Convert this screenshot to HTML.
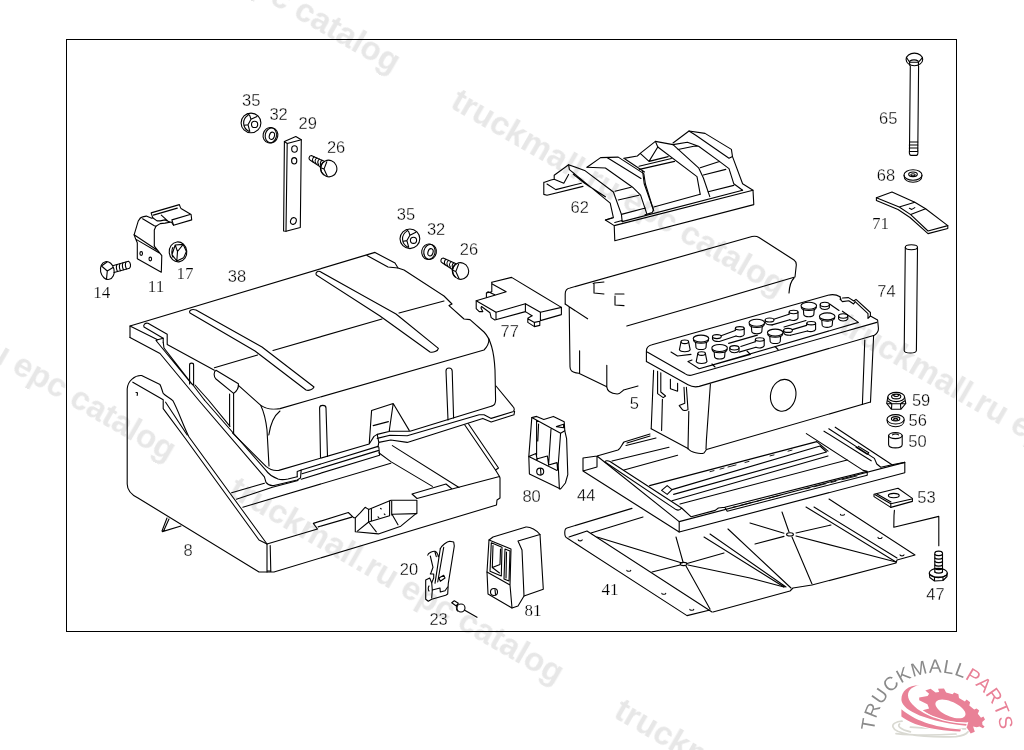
<!DOCTYPE html>
<html><head><meta charset="utf-8">
<style>
html,body{margin:0;padding:0;background:#fff;}
body{width:1024px;height:750px;overflow:hidden;position:relative;font-family:"Liberation Sans",sans-serif;}
svg{position:absolute;left:0;top:0;}
.wm{font-family:"Liberation Sans",sans-serif;font-weight:bold;font-size:33px;fill:#e7e7e7;}
.l{fill:none;stroke:#000;stroke-width:1.1;stroke-linejoin:round;stroke-linecap:round;}
.t{font-family:"Liberation Sans",sans-serif;font-size:16.5px;fill:#000;stroke:#fff;stroke-width:0.3px;}
.ts{font-family:"Liberation Serif",serif;font-size:17px;fill:#000;stroke:#fff;stroke-width:0.2px;}
</style></head><body>
<svg width="1024" height="750" viewBox="0 0 1024 750">
<rect x="0" y="0" width="1024" height="750" fill="#fff"/>
<!-- watermarks -->
<g class="wm" style="filter:grayscale(1)">
<text transform="translate(449,107) rotate(30)">truckmall.ru epc catalog</text>
<text transform="translate(63.5,-116) rotate(30)">truckmall.ru epc catalog</text>
<text transform="translate(837,331) rotate(30)">truckmall.ru epc catalog</text>
<text transform="translate(227,495) rotate(30)">truckmall.ru epc catalog</text>
<text transform="translate(-161,272) rotate(30)">truckmall.ru epc catalog</text>
<text transform="translate(612.3,716.7) rotate(30)">truckmall.ru epc catalog</text>
</g>
<!-- frame -->
<rect x="66.5" y="39.5" width="890" height="592" fill="none" stroke="#000" stroke-width="1"/>
<!-- small hardware -->
<g class="l">
<!-- nut 35a -->
<ellipse cx="251.0" cy="122.9" rx="9.9" ry="9.8"/><path d="M248.0,115.2 C242.0,118.9 242.0,127.9 249.2,131.4"/><path d="M249.8,115.7 L251.0,119.3 L248.0,124.7 L249.8,131.3 M251.0,119.3 L257.0,116.4 M244.4,125.3 L248.0,124.7 M249.8,115.7 L247.8,113.7"/><circle cx="254.6" cy="124.4" r="3.1"/>
<!-- washer 32a -->
<ellipse cx="269.8" cy="135.2" rx="6.7" ry="7.8" transform="rotate(12 269.8 135.2)"/><ellipse cx="271.5" cy="135.4" rx="6.3" ry="7.5" transform="rotate(12 271.5 135.4)"/><ellipse cx="271.9" cy="135.8" rx="2.5" ry="3.7" transform="rotate(18 271.9 135.8)"/>
<!-- plate 29 -->
<path d="M284.4,141.5 L295.8,136.5 L301.3,139.8 L300.3,227.5 L286,231.3 L283.6,231 Z"/>
<path d="M284.4,141.5 L287.2,143.5 L301.3,139.8 M287.2,143.5 L286,231.3"/>
<ellipse cx="294.5" cy="149" rx="2.8" ry="3.2"/>
<ellipse cx="294.2" cy="160.8" rx="2.6" ry="3.2"/>
<ellipse cx="293.4" cy="221" rx="2.8" ry="3.4" transform="rotate(20 293.4 221)"/>
<!-- bolt 26a -->
<ellipse cx="328.8" cy="168.5" rx="8" ry="8.4" transform="rotate(-25 328.8 168.5)"/><path d="M324.3,161.3 L311.3,155.5 C308.8,155.5 308.3,159.5 310.3,160.3 L320.6,167.0"/><path d="M314.2,156.8 C312.2,158.3 312.2,160.8 313.4,162.4 M316.8,157.9 C314.8,159.4 314.8,161.9 316.0,163.5 M319.4,159.1 C317.4,160.6 317.4,163.1 318.6,164.7 M322.0,160.3 C320.0,161.8 320.0,164.3 321.2,165.9 "/><path d="M323.3,162.0 C319.3,165.5 319.8,172.0 323.8,174.7 M326.8,161.7 L324.0,169.1 L327.3,176.3 M324.0,169.1 L320.2,167.5"/>
<!-- nut 35b -->
<ellipse cx="409.9" cy="238.8" rx="9.9" ry="9.8"/><path d="M406.9,231.1 C400.9,234.8 400.9,243.8 408.1,247.3"/><path d="M408.7,231.6 L409.9,235.2 L406.9,240.6 L408.7,247.2 M409.9,235.2 L415.9,232.3 M403.3,241.2 L406.9,240.6 M408.7,231.6 L406.7,229.6"/><circle cx="413.5" cy="240.3" r="3.1"/>
<!-- washer 32b -->
<ellipse cx="428.4" cy="251.7" rx="6.7" ry="7.8" transform="rotate(12 428.4 251.7)"/><ellipse cx="430.1" cy="251.9" rx="6.3" ry="7.5" transform="rotate(12 430.1 251.9)"/><ellipse cx="430.5" cy="252.3" rx="2.5" ry="3.7" transform="rotate(18 430.5 252.3)"/>
<!-- bolt 26b -->
<ellipse cx="460.6" cy="271.0" rx="8" ry="8.4" transform="rotate(-25 460.6 271.0)"/><path d="M456.1,263.8 L443.1,258.0 C440.6,258.0 440.1,262.0 442.1,262.8 L452.4,269.5"/><path d="M446.0,259.3 C444.0,260.8 444.0,263.3 445.2,264.9 M448.6,260.4 C446.6,261.9 446.6,264.4 447.8,266.0 M451.2,261.6 C449.2,263.1 449.2,265.6 450.4,267.2 M453.8,262.8 C451.8,264.3 451.8,266.8 453.0,268.4 "/><path d="M455.1,264.5 C451.1,268.0 451.6,274.5 455.6,277.2 M458.6,264.2 L455.8,271.6 L459.1,278.8 M455.8,271.6 L452.0,270.0"/>
<!-- bolt 14 -->
<ellipse cx="107.3" cy="270.5" rx="6.8" ry="9" transform="rotate(-12 107.3 270.5)"/>
<path d="M101.5,266 L107,262 M107.300,271 L101.5,266 M107.300,271 L106.5,279 M107.300,271 L113,267.5"/>
<path d="M113.500,265.5 L128.500,261.3 C130.800,262.500 131.200,266.500 129.500,268.200 L114,272.500"/>
<path d="M117,264.500 C116,266.500 116.500,269.500 117.500,271.500 M120,263.700 C119,265.700 119.500,268.700 120.500,270.700 M123,262.800 C122,264.800 122.500,267.800 123.500,269.800 M126,262 C125,264 125.500,267 126.500,269"/>
<!-- bracket 11 -->
<path d="M134.100,234.800 L138.300,220.900 C139.800,218 141,217.200 142.600,216.900 L146.300,216.100 L151.700,218.300 L152.700,217.700 L151.100,212.900 L179.400,204.600 C180,206.500 180.300,207.500 181,208.500 L191.100,214.500 L191.700,219.900 L173.500,225.200 L171.400,222 L165,223.100 L160.200,223.600 L155.900,226.300 L154.300,230 L154.300,246"/>
<path d="M142.600,218.800 L154.300,225.700 L155.900,226.300 M153.300,215.100 L177.300,208.100 M171.900,219.900 L190.100,214.500 M171.900,219.900 L173.500,225.200 M161.300,215.100 L167.700,220.900 M152.700,217.700 L157,220.900 L160.200,220.900 L165,219.900 L169.800,222"/>
<path d="M134.100,234.800 L135.700,239.100 L137.300,242.800 L137.300,258.800 L161.300,272.200 L161.800,255.600 L158.100,250.800 L154.300,246 M134.100,234.800 L158.100,250.800 M135.700,239.100 L160.200,253.500"/>
<ellipse cx="141.200" cy="253.500" rx="1.300" ry="1.900"/>
<ellipse cx="150.300" cy="259" rx="1.300" ry="1.900"/>
<!-- nut 17 -->
<ellipse cx="178" cy="251.900" rx="8.800" ry="10" transform="rotate(-6 178 251.900)"/>
<path d="M175.200,245 L183.200,244.400 L186.400,251.400 L183.700,257.800 L176.800,261 L172,254.600 Z M175.200,245 L177.500,251.500 L176.800,261 M177.500,251.500 L183.200,244.400 M172.800,247.500 C171.500,250 171.500,254.500 172.800,257"/>
</g>
<!-- right column -->
<g class="l">
<!-- bolt 65 -->
<ellipse cx="914.4" cy="59.4" rx="8.3" ry="6.3"/>
<path d="M906.500,57.500 L909.500,62 L918.500,62.200 L922.300,57.800 M909.500,62 L909.800,65.500 M918.500,62.200 L918.300,65.700 M910,61 C912,59.500 916,59.500 918,61"/>
<path d="M910.300,66 L909.500,150 M918.600,66 L917.800,150"/>
<path d="M909.500,142 L917.800,142 M909.300,145 L917.800,145 M909.300,148 L917.800,148 M909.300,151.500 L917.800,151.500 M909.500,150 C909,153 909.500,155.200 911,155.400 L916.500,155.400 C918,155 918.200,153 917.800,150"/>
<!-- washer 68 -->
<ellipse cx="913" cy="175" rx="9" ry="5.2"/>
<ellipse cx="913" cy="174.300" rx="4.300" ry="2.300"/>
<ellipse cx="913" cy="174.800" rx="2.200" ry="1.100"/>
<path d="M904,175.500 C904,180 908,182.300 913,182.300 C918,182.300 922,180 922,175.500"/>
<!-- plate 71 -->
<path d="M876.400,197.800 L892,192 L914.800,202.200 L925.600,208.800 L947.800,225.600 L947.800,228.500 L928,233.600 L910,217.500 L898,209.500 L876.400,200.500 Z"/>
<path d="M876.400,197.800 L899.200,207 L910.700,214.600 L928,231 L947.800,225.600 M899.200,207 L914.800,202.200 M910.700,214.600 L925.600,208.800 M909.400,208.200 L911.800,209.400 L914.800,207.600"/>
<!-- rod 74 -->
<ellipse cx="911.400" cy="247.200" rx="6.100" ry="2.500"/>
<path d="M905.300,247.200 L904.200,350.500 C904.500,353.800 916,354 916.400,350.500 L917.500,247.200"/>
<!-- nut 59 -->
<ellipse cx="896.200" cy="397" rx="8.400" ry="4.600"/>
<ellipse cx="896.200" cy="396.500" rx="4.600" ry="2.400"/>
<path d="M893.500,395 C894,397 898,397 898.800,395.200"/>
<path d="M887.800,397 L886.700,403.500 L891.500,409.300 L900.800,409.300 L905.800,403.500 L904.600,397 M886.700,403.500 L891.800,403.800 L900.500,403.800 L905.800,403.500 M891.800,403.800 L891.500,409.300 M900.500,403.800 L900.800,409.300 M888,401 L892,403.800 M904.500,401 L900.500,403.800"/>
<!-- washer 56 -->
<ellipse cx="895.600" cy="419.300" rx="8.600" ry="4.700"/>
<ellipse cx="895.600" cy="418.800" rx="4.200" ry="2.200"/>
<ellipse cx="895.600" cy="419.300" rx="2.100" ry="1"/>
<path d="M887,420 C887,424.500 891,426.800 895.600,426.800 C900.200,426.800 904.200,424.500 904.200,420"/>
<!-- spacer 50 -->
<ellipse cx="895.400" cy="435.600" rx="6.800" ry="3"/>
<path d="M892.500,434.800 C893.500,433.800 897.500,433.800 898.500,434.800"/>
<path d="M888.600,435.600 L888.600,444.500 C888.600,449 902.200,449 902.200,444.500 L902.200,435.600"/>
<!-- plate 53 -->
<path d="M874,494.200 L898,488.200 L912.400,498.400 L912.400,501.400 L890.800,507.400 L874,496.600 Z"/>
<path d="M875.200,494.800 L890.800,503.800 L911.800,499 M877,494 L891,502 M890.800,503.800 L890.800,507.400"/>
<ellipse cx="893.800" cy="495.600" rx="5.400" ry="2.200"/>
<path d="M894.400,510.400 L894,515.500 L893.800,527.200 L938.800,516.400 L938.800,545.800"/>
<!-- bolt 47 -->
<path d="M934.800,572 L934.800,553 C935.500,550.500 941.800,550.500 942.500,553 L942.500,572"/>
<path d="M934.800,554.500 C936.500,556 941,556 942.500,554.500 M934.800,558 C936.500,559.500 941,559.500 942.500,558 M934.800,561.500 C936.500,563 941,563 942.500,561.500 M934.800,565 C936.500,566.500 941,566.500 942.500,565 M934.800,568.500 C936.500,570 941,570 942.500,568.500 M934.800,572 C936.500,573.500 941,573.500 942.500,572"/>
<ellipse cx="938.300" cy="573" rx="9" ry="4.600"/>
<path d="M929.300,573 L929.800,577.500 L934.500,581 L943,580.500 L947,576.500 L947.300,573 M934.500,577 L934.500,581 M943,576.800 L943,580.500 M929.800,574.500 L934.500,577 L943,576.800 L947,575"/>
<!-- part 77 -->
<path d="M491.800,282.200 L511.600,277.400 L561.400,307.400 L540.400,312.200 L525.400,303.800 L496,312.200 L476.200,300.800 L506.200,291.800 L492.200,284"/>
<path d="M491.800,282.200 L491.800,291.800 L486.400,293 L486.400,297.200 M488.200,291.800 L494.800,294.800 M486.400,293 L488.200,291.800"/>
<path d="M476.200,300.800 L476.200,308.600 L479.200,311.600 L482.800,311.600 L481,308 L481.500,306.500 L490,312.800 L491.200,317.600 L494.800,320 L525.400,311.600 L525.400,303.800 M496,312.200 L496,319.400 M525.400,311.600 L532,315.800 M540.400,312.200 L540.400,320 M561.400,307.400 L561.400,314.600 L540.400,320.600"/>
<path d="M527.800,318.800 L534.400,322.400 L539.800,321.200 L539.800,325.400 L534.400,326.600 L527.800,322.400 Z M534.400,322.400 L534.400,326.600 M532,315.800 L527.800,318.200"/>
<!-- part 80 -->
<path d="M531.800,417.600 L536.600,416.400 L543.800,419.400 L553.400,416.400 L564.200,421.800 L564.800,430.800 L566.600,438.600 L567.800,474.600 L565.400,483 L560.600,489 L529.400,474 L528.800,456.600 Z"/>
<path d="M531.800,417.600 L560.600,433.200 L564.800,430.800 M560.600,433.200 L558.200,465 L559.400,489 M536.600,420.600 L536.600,455 M538.600,424 L537.800,441 M551,429 L548.600,465 M528.800,456.600 L536,453.600 L537.200,459.600 M528.800,456.600 L557,470.400 M536.600,459 L547.400,456 L548.600,465 L557,462.600 L557.600,469.800 M556.400,426.600 L563.600,424.200 L563.600,427.800 Z"/>
<circle cx="540.200" cy="471.600" r="3.500"/>
<path d="M540.500,468.500 L541,474.800"/>
<!-- part 81 -->
<path d="M489,540 L493,537 L526,527 C530,526.500 537,530.500 540,534.500 L543.300,589.300 L524,596 L518,606 L512,608 L488,594 L487,572 Z"/>
<path d="M489,540 L511,549 L510,585 L512,608 M487,572 L510,585 M518,541 L540,534.500 M518,541 L522,550 L524,596"/>
<path d="M491.300,542.700 L502,547.300 L501.300,576 L490,571.300 Z M493,545.500 L492.300,567.500 L500,564.500 L500.500,549 M492.300,567.500 L499.500,573"/>
<path d="M505,549 L510,551 L509,581 L504,579 Z M506.500,552 L506,578"/>
<circle cx="494" cy="592" r="3.500"/>
<path d="M495,589.500 L495.500,594.500"/>
<!-- latch 20 -->
<path d="M440.300,548.700 C442,545 447,541.500 449.700,541.300 L453.700,542 L454.300,546 L448.300,583.300 L447.700,594 L445.700,595.300 L431.700,599.300 L428.300,601.300 L425.700,599.300 L425.700,580 L429.700,578 L431.700,582.700 L432.300,590 L431.700,598"/>
<path d="M440.300,548.700 L435,583.300 M443.700,547.300 L437.700,582 M427.700,555.300 C428,553 433,551 435,551.300 C437,552 438,555 438.300,556.700 M430.300,556 L433,567.300 L431,572.700 L430.300,574 L433.700,574 L433.700,578 L431.700,582.700 M435,552 L436.300,556.700 M439,578 L443.700,575.300 L445,578 L440.300,581.300 Z M432.300,590 L440,588 L440.300,592 L445,590.700 L447.700,587 M429,586 C428,587 428,590 429,591"/>
<!-- rivet 23 -->
<path d="M451.700,602.700 L454.300,600.700 L458.300,603.300 L456.300,606 Z"/>
<circle cx="461" cy="608" r="4"/>
<path d="M457.500,604.500 C456,606 456,609 457.500,611 M464.300,610 L477,617.300"/>
</g>
<!-- cover 38 -->
<g class="l">
<path d="M130,337.4 L130,326 L375,252.4 L395,263 L398,268 L404,270 L444,296 L452,304 L449,305.600 L464,319 L470,319.600 L484,332 C490,338 494,350 495,370 L495.600,400 C495.600,403 494,405.500 492,406"/>
<path d="M367,255.400 L388,267 L398,268"/>
<path d="M130,326 L157.600,339.800 L163.200,338.200 M130,337.400 L160,353.500 L198.500,400 L264.400,476.800 L266,482.400 C268,485 271,486 274,485.500 L297.200,480 L300.500,478 L301.200,470 L297.200,471.500 L297.200,476.800"/>
<path d="M144,327 C143,325 145,322.500 148,323.300 L167.200,334.200 L167.200,344.600 L214.400,370.200 M144,327 L163.200,338.200 L163.200,342.200"/>
<path d="M157.600,339.800 L156,340.500 L190,382 L193,385 L204.400,400 M163.200,342.200 L164,348 L192,384 M195,385 L208.400,400 L230,426.400"/>
<path d="M204.400,400 L235,435 L266,470.400 C268,473.500 272.400,476.800 278,479 C281,480 284,479.800 288,479 L297.200,476.800"/>
<path d="M232.400,432.800 L266,466.400 C269,469 274,471 278.800,470.400 L369.200,444 L371.600,410.400 L393.200,403.500 L409.200,430.400 M393.200,403.500 L389.200,431.200 M373.200,425.600 L388.400,421.600 M369.200,444 L374,436.400 L377.200,434.400 L390,431.200 L410,431.200 L492,406"/>
<path d="M377.200,438.400 L390,435.200 L407.200,435.800 L479.200,414.800 L484,414.800 L491.200,418.400 L512.800,411.800 C514.500,411 515,408.500 512.800,406.400 L496,386"/>
<path d="M378.800,442.400 L390.800,440 L407.200,442.400 L482.800,418.400 L491.200,422 L514,414.800 L514.600,411.200 M377.200,434.400 L378.800,442.400 L378,447"/>
<path d="M301.200,470 L378,446.400 M302,473.800 L378.800,450.400 M301.200,479.200 L379.600,455.200 L378.800,447"/>
<!-- crease and ribs -->
<path d="M214.400,367.800 L257.600,355 M273,350.500 L382,319 M399,313 L444,301"/>
<path d="M190,313 C188.500,311 191,308.500 196,310 L262,347 L314,387 C313,389.500 309,391 306,390 L255,351 Z"/>
<path d="M316.400,275 C315,272.500 318,270.500 320,271.600 L396,314 L438.400,348.400 C438,351 433,353 430,352 L380,316 Z"/>
<!-- lug -->
<path d="M216,370.200 L238.400,383.800 C238.800,387 237,391 233.600,393.400 L216,379 C213.500,376.500 213.500,371.500 216,370.200 Z"/>
<path d="M238.400,385.400 L260.800,405.400 C265,408.500 273,409.800 280,408.600 L484,350 C487,347 489,343 489,339"/>
<path d="M260.800,405.400 C263,410 265.600,417.400 267,430 L269,466 M280,411 C275,415 270.400,423.800 268.800,435"/>
<!-- tabs -->
<path d="M189.600,384 L189.600,365 C189.600,362.500 193.600,362.500 193.600,365 L193.600,384.600"/>
<path d="M229.600,426 L229.600,394 M233.600,433 L233.600,393.400"/>
<path d="M320.500,457.500 L319.600,408 C319.600,404.500 326,404.500 326,408 L327.500,456.500"/>
<path d="M448,420 L446,371 C446,367 452,367 452.200,371 L453.600,418"/>
</g>
<!-- base 8 -->
<g class="l">
<path d="M141.600,375.500 C135,375 127.500,381 127.200,389 L127.200,484 C127.200,491 132,495 138,498 L259,572 L274,572 L496.500,505 L497,500 L500,498 L500,478 L499.500,476.500 L495.500,470 L464.800,425"/>
<path d="M141.600,375.500 L160,384.600 C161.500,387 162,390.500 163.200,393.400 C166,396.500 170,398 172.800,400.600 C178,410 183,425 189,437 L267,544 L267,572 M270.200,545.500 L270.800,571.500 M267,571 L271,571"/>
<path d="M132.800,382.200 L163.200,399.800 L163.200,408.600 L185,438 L259,540 L267,544 M165.600,402.200 L187.200,435"/>
<path d="M136,392.500 L137.500,392.800 L137.200,395.500"/>
<path d="M267,544 L317.500,529 L313.300,523.400 L348.300,512.500 L353.900,517.800 L355.300,517.800 M318.200,526.900 L351.800,517.100"/>
<path d="M412,494 L417,498.500 L452,489 L446,484 Z M452,489 L499.500,476.500 M468.400,423.800 L498.500,468 L495.500,470"/>
<path d="M231.600,492.800 L264.400,483.200 M236.400,499.200 L272.400,487.200 L298,480.500 M242.800,507.200 L390.800,463.200 M378.800,452.800 L390.800,461.600 L432.400,486.400 M392.400,445.600 L459,487.500"/>
<!-- latch mount -->
<path d="M355.300,517.800 L360.200,512.900 L365.100,507.300 L368.600,509.400 L391,500.300 L416.900,500.300 L416.900,512.900 L400.800,526.200 L378.400,533.900 L355.300,531.800 Z"/>
<path d="M368.600,509.400 L368.600,522 L357.400,531.100 M371.400,508.700 L371.400,521.300 M368.600,522 L389.600,515.700 L389.600,501 M391.700,501 L391.700,515 M368.600,522 L376.300,531.800 M392.400,515 L398,524.800 M392.400,514.300 L416.900,513.600"/>
<path d="M380.500,508.300 L381.300,509 M384.300,514 L385,514.700 M378,516.800 L378.800,517.500"/>
<!-- pin -->
<path d="M167,518 L162,531 M169,519 L163.600,531 M162.400,531.600 L181,526"/>
</g>
<!-- batteries -->
<g class="l">
<path d="M565.2,304 L565.2,294 C565.2,290.500 567,288.500 570,288 L752,236.500 C755,235.800 757,236.200 759,237.500 L794,260 C796,261.500 796.400,263 796.300,265 L795,277 L710,302 L626.800,326"/>
<path d="M565.2,304 L569.200,306.800 L587.600,318.800 M569.200,306.800 L570,366.800 C570,371 573,373 578.800,373.200 L606.800,386.800 C607,391 610,393.500 617.200,394 C620,393.800 622,391.500 623.600,390 L638,386 M579.600,350.800 L579.600,373.200 M606.800,365.200 L606.800,387.600"/>
<path d="M794,278 C791,281 789.500,285 789,293"/>
<path d="M593.2,283.500 L594.500,283 L604,282 M594,283 L594,293 L604,294 M615,294 L624,294 M615,296 L615,305 L624,305.600"/>
<path d="M646.4,361.600 L646.400,351 C646.400,347.500 649,345.500 652,344.800 L828,295.200 C832,294.200 836,294.200 840,296.800 M646.400,361.600 L688,384.800 C692,387 696,387.200 699.200,386.400 L874.400,335.200 C877.500,333 878.600,330 878.400,328 L877.600,320 L870.400,316"/>
<path d="M647.200,352 L684.800,373.600 C687,375 689.500,375.600 691.200,375.200 L876.800,322.400"/>
<path d="M840,299.200 L842.400,301.600 L848.800,300.800 L853.600,304 L855.200,301.600 L868,313.600 L868,318.400 L870.400,316 M840,296.800 L841,299.500 M842.500,298 L848.500,297.600 L853.800,301 L856,299.400 L870.400,312.500 L870.400,316"/>
<path d="M671,352 L677.500,356 L691,354.400 M688,361.600 L699.200,368.800 L750.400,354.400 L747,351 M688,361.600 L692,360 M699.200,368.800 L858.400,322.400 L842.400,311.200 M829.600,304 L839,310.500 M712,364 L715,367 M775,346.500 L778,349.500"/>
<path d="M653.600,370.400 L651.200,428.800 M657.600,371.200 L657.600,393.600 L663.200,397.600 L665.600,396 L660.800,392 L660.800,372.800 M670.400,379.200 L670.400,388.800 L677.600,391.200 L677.600,383.200 M686.400,387.200 L688,409.600 C686,411 683,410.500 682.400,409.600 L679.200,405.600 L684.800,403.200 L684,387.200 M662.400,399.200 L661.600,430.400 M688.800,411.200 L688,449 M710.400,384 L706.400,440 L706,449 M864.800,340 L862.400,404.500 M873.600,336 L870.500,402 "/>
<path d="M651.200,428.800 L688,448.500 C691,452.500 700,454.500 704,453 L706.500,449.500 L870.500,402"/>
<ellipse cx="783.2" cy="395.3" rx="12.6" ry="16" transform="rotate(12 783.2 395.3)"/>
<ellipse cx="684.8" cy="341.8" rx="3.8" ry="1.8"/><path d="M681.0,341.8 L679.4,349.8 C680.8,352.4 688.8,352.4 690.2,349.8 L688.6,341.8"/><ellipse cx="701.6" cy="353.6" rx="3.8" ry="1.8"/><path d="M697.8,353.6 L696.2,361.6 C697.6,364.2 705.6,364.2 707.0,361.6 L705.4,353.6"/>
<ellipse cx="701.0" cy="338.6" rx="7.8" ry="3.5"/><path d="M693.5,340.2 C694.2,344.3 707.8,344.3 708.5,340.2"/><path d="M695.6,342.9 L696.0,347.6 C697.1,350.2 704.9,350.2 706.0,347.6 L706.4,342.9"/><ellipse cx="719.6" cy="348.0" rx="7.8" ry="3.5"/><path d="M712.1,349.6 C712.8,353.7 726.4,353.7 727.1,349.6"/><path d="M714.2,352.3 L714.6,357.0 C715.7,359.6 723.5,359.6 724.6,357.0 L725.0,352.3"/><ellipse cx="756.8" cy="322.8" rx="7.8" ry="3.5"/><path d="M749.3,324.4 C750.0,328.5 763.6,328.5 764.3,324.4"/><path d="M751.4,327.1 L751.8,331.8 C752.9,334.4 760.7,334.4 761.8,331.8 L762.2,327.1"/><ellipse cx="775.2" cy="332.6" rx="7.8" ry="3.5"/><path d="M767.7,334.2 C768.4,338.3 782.0,338.3 782.7,334.2"/><path d="M769.8,336.9 L770.2,341.6 C771.3,344.2 779.1,344.2 780.2,341.6 L780.6,336.9"/><ellipse cx="808.8" cy="305.8" rx="7.8" ry="3.5"/><path d="M801.3,307.4 C802.0,311.5 815.6,311.5 816.3,307.4"/><path d="M803.4,310.1 L803.8,314.8 C804.9,317.4 812.7,317.4 813.8,314.8 L814.2,310.1"/><ellipse cx="827.2" cy="316.4" rx="7.8" ry="3.5"/><path d="M819.7,318.0 C820.4,322.1 834.0,322.1 834.7,318.0"/><path d="M821.8,320.7 L822.2,325.4 C823.3,328.0 831.1,328.0 832.2,325.4 L832.6,320.7"/>
<ellipse cx="734.4" cy="347.8" rx="4.6" ry="2.2"/><path d="M729.8,347.8 L729.8,350.8 C731.4,353.4 737.4,353.4 739.0,350.8 L739.0,347.8"/><ellipse cx="824.8" cy="304.5" rx="4.6" ry="2.2"/><path d="M820.2,304.5 L820.2,307.5 C821.8,310.1 827.8,310.1 829.4,307.5 L829.4,304.5"/><ellipse cx="843.2" cy="316.0" rx="4.6" ry="2.2"/><path d="M838.6,316.0 L838.6,319.0 C840.2,321.6 846.2,321.6 847.8,319.0 L847.8,316.0"/>
<ellipse cx="716.9" cy="336.6" rx="4.4" ry="2"/><path d="M712.5,336.6 L712.5,339.0 C713.4,341.2 716.9,341.6 719.4,341.5"/><path d="M721.1,335.8 L735.2,330.5 M719.4,341.5 L736.0,336.1"/><ellipse cx="739.8" cy="328.3" rx="4.4" ry="1.7"/><path d="M735.4,328.3 L735.2,330.5 M744.2,328.3 L744.2,334.6 C743.3,336.9 738.8,337.3 736.0,336.1"/><path d="M740.8,346.4 L755.2,341.7 M739.1,352.1 L756.0,347.3"/><ellipse cx="759.8" cy="339.5" rx="4.4" ry="1.7"/><path d="M755.4,339.5 L755.2,341.7 M764.2,339.5 L764.2,345.8 C763.3,348.1 758.8,348.5 756.0,347.3"/><ellipse cx="769.6" cy="320.0" rx="4.4" ry="2"/><path d="M765.2,320.0 L765.2,322.4 C766.1,324.6 769.6,325.0 772.1,324.9"/><path d="M773.8,319.2 L789.0,314.2 M772.1,324.9 L789.8,319.8"/><ellipse cx="793.6" cy="312.0" rx="4.4" ry="1.7"/><path d="M789.2,312.0 L789.0,314.2 M798.0,312.0 L798.0,318.3 C797.1,320.6 792.6,321.0 789.8,319.8"/><ellipse cx="788.0" cy="330.4" rx="4.4" ry="2"/><path d="M783.6,330.4 L783.6,332.8 C784.5,335.0 788.0,335.4 790.5,335.3"/><path d="M792.2,329.6 L806.6,325.4 M790.5,335.3 L807.4,331.0"/><ellipse cx="811.2" cy="323.2" rx="4.4" ry="1.7"/><path d="M806.8,323.2 L806.6,325.4 M815.6,323.2 L815.6,329.5 C814.7,331.8 810.2,332.2 807.4,331.0"/>
<path d="M728.6,343.4 L757.4,335.1 M784,327 L806,320.500"/>
</g>
<!-- clamp 62 -->
<g class="l">
<!-- far-left tab -->
<path d="M543.800,182.400 L543.800,194.400 L547,195.200 L583,186.400 M543.800,182.400 L551,180 L554.200,179.200 L554.200,175.200 L568.600,164.800 M547,184 L555.800,189.600 L581.400,183.200 M554.200,179.200 L563.800,183.200 L568.600,174.400"/>
<!-- strap 1 -->
<path d="M568.600,164.800 L569.400,169.600 L610.200,203.200 L613.400,217.600 L605.400,220 M568.600,164.800 L584.600,170.400 L613.400,192 L621.400,214.400 L622.200,221.600 M573.400,174.400 L584.600,183.200 L605.400,196.800"/>
<!-- hoop 1 -->
<path d="M587,167.200 L600.600,157.600 L618.200,157.100 L643.800,173.600 L645.400,184 L653.400,209.600 L652.200,212.600 L645,214.800"/>
<path d="M587,167.200 L605.400,168 L632.600,187.200 L640.600,195.200 L647,214.400 M607,157.500 L641,178.500 M615,191.200 L631,187.200 M618.200,200 L639,195.200 M621.400,214.400 L645.400,208 M625,159 L644.500,172"/>
<!-- middle -->
<path d="M623.800,158.400 L637.400,156 L640.200,153.400 L655.400,141.400 L657.800,147 L649,161.400 L640.200,153.400 M649,161.400 L668.200,156.600 M639.400,169.400 L674.600,161.400 M639,166.200 L671.400,158.500 M642.600,171 L644.200,183.800 L653.800,211 M653.800,207 L700.200,194.200"/>
<!-- strap 2 -->
<path d="M655.400,141.400 L673,144.600 L698.600,167.800 L703.400,178 L709.800,196.600 M657.800,147 L697,176.600 L700.200,194.200 M673,143 L689,131 L705,133.400 L731.400,149.400 L732.500,156.600 L742.600,183.800 L753,190.200"/>
<!-- hoop 2 -->
<path d="M673,144.600 L687.400,142.200 L698.600,146.200 L719.400,161.400 L729,168.600 L733.800,183.800 L742.600,190.200 M689,131 L695.400,135 L729,158.200 L732.500,156.600 M678,149.500 L693.800,146.200 L698.600,146.200 M700.200,167.800 L719.400,161.400 M703.400,175 L725.800,169.400 M708.200,191.800 L733.800,185.400"/>
<!-- front bar -->
<path d="M605.400,220 L614.200,225.600 L614.800,240.800 L753.800,204.600 L753,190.200 L614.200,225.600 M605.400,220 L612,218 M622.200,221.600 L742.600,190.200 M614.800,222.500 L622,220.500"/>
</g>
<!-- tray 44 -->
<g class="l">
<path d="M583,458 L597,456 L618,450 C621,448 622,444 624,442 L650,434 M627,443 L650,436 M626,445.500 L656,438 M583,458 L583,471 L679.200,532 L679.200,521.600 L597,456 L597,467 L583,471"/>
<path d="M679.200,521.600 L904.800,462.400 L904.800,472.800 L679.200,532"/>
<path d="M605,462 L676,509.600 C678,510.500 680.500,509.500 681.600,508 L610,461.500 C608,460.500 605,460.500 605,462 Z M681.600,508 L691.200,516.800 L715.200,510.400 L718.400,508 L724.800,507.200 L727.200,511.200 L867.200,475.200 L867.200,471.200 L863.200,470.400 M724.800,507.200 L867.200,471.200"/>
<path d="M612,461 L669,447.200 M624,470 L677.600,455.200"/>
<path d="M649.600,485.600 L816.800,441.600 L828,451.200 M661.600,490.400 L667.200,485.600 L672,489.600 L667.200,494.400 Z M672,489.600 L820,446 L826.500,452 L673.600,494.400 M672,500.800 L828,456 M680,504 L847.200,460"/>
<path d="M806.400,433.600 L863.200,470.400 M824,431.200 L871.200,460.800 M828.800,428.800 L874.400,458.400 L876.800,464 L880.800,467.200 L892,464.800 M835.200,427.200 L892,464.800 L904.800,462.400 M856,447.200 L867.200,454.400 L868.800,452.800 L858.400,446.400"/>
<path d="M710.0,471.7 L714.0,470.6 M720.0,469.1 L724.0,468.0 M728.0,467.0 L736.0,464.9 M745.0,462.5 L749.0,461.4 M770.0,455.9 L774.0,454.9 M788.0,451.2 L792.0,450.1 M733.0,507.2 L736.0,506.5 M740.0,505.5 L752.0,502.4 M757.0,501.2 L761.0,500.1 M769.0,498.1 L780.0,495.3 M806.0,488.8 L810.0,487.8 M814.0,486.8 L826.0,483.7 M831.0,482.5 L836.0,481.2 M842.0,479.7 L857.0,475.9" stroke-width="0.9"/>
</g>
<!-- plate 41 -->
<g class="l">
<path d="M567,528 C564,528.500 564,537 567,538 L687,615.600 L710,610 M567,528 L632,508.400 M569,537 L587,531 L712,612 M591,533 L643,517"/>
<path d="M713,612 L790,591 L793,588 L812,585 L896,563 L897,560 L915,555 L829,499 M806,507 L896,562 M814,507 L897,558"/>
<path d="M597,537 L682,563 M652,572 L680,565 M687,563.500 L724,553 M676,537 L683,562 M686,566 L710,609 M688,565 L750,578 L784,587"/>
<ellipse cx="683.6" cy="564" rx="3.4" ry="1.600"/>
<path d="M750,523 L784,533.200 M782,512 L789,532 M796,533 L831,525 M755,544 L784,536.400 M792,537 L812,584 M796,536 L896,562"/>
<ellipse cx="790" cy="534.400" rx="3.400" ry="1.600"/>
<path d="M704,537 L784,587 M710,534 L786,587 M728,529 L791,588"/>
<path d="M578.2,539.8 A2,1.1 0 0 0 582.2,539.8 M626.8,570.2 A2,1.1 0 0 0 630.8,570.2 M661.8,593.2 A2,1.1 0 0 0 665.8,593.2 M689.8,609.2 A2,1.1 0 0 0 693.8,609.2 M840.4,514.2 A2,1.1 0 0 0 844.4,514.2 M878.0,537.4 A2,1.1 0 0 0 882.0,537.4 M900.0,554.8 A2,1.1 0 0 0 904.0,554.8"/>
</g>
<!-- labels -->
<g class="t" text-anchor="middle" style="filter:grayscale(1)">
<text x="251.3" y="105.9">35</text>
<text x="278.6" y="120.0">32</text>
<text x="307.7" y="129.0">29</text>
<text x="336.1" y="153.0">26</text>
<text x="405.9" y="220.0">35</text>
<text x="436.1" y="234.7">32</text>
<text x="469.0" y="254.6">26</text>
<text x="237.0" y="282.0">38</text>
<text x="188.2" y="556.0">8</text>
<text x="509.8" y="336.8">77</text>
<text x="579.8" y="213.2">62</text>
<text x="634.4" y="409.2">5</text>
<text x="888.2" y="123.8">65</text>
<text x="885.9" y="181">68</text>
<text x="886.5" y="297.0">74</text>
<text x="921.1" y="405.8">59</text>
<text x="917.8" y="425.8">56</text>
<text x="917.5" y="447.0">50</text>
<text x="926.5" y="503.2">53</text>
<text x="935.5" y="600.2">47</text>
<text x="586.2" y="501.0">44</text>
<text x="531.6" y="502.2">80</text>
<text x="409.0" y="575.3">20</text>
<text x="438.6" y="624.7">23</text>
</g>
<g class="ts" text-anchor="middle" style="filter:grayscale(1)">
<text x="101.8" y="297.5">14</text>
<text x="156.0" y="292.4">11</text>
<text x="185.0" y="279.0">17</text>
<text x="880.6" y="229.0">71</text>
<text x="610.0" y="595.4">41</text>
<text x="533.0" y="616.0">81</text>
</g>
<!-- logo -->
<g>
<path d="M902.0,721.2 C896.0,721.6 891.8,724.0 893.0,727.0 C894.8,733.0 914.0,737.8 956.0,736.6 C962.0,736.0 966.8,733.6 968.0,731.8 M910.4,727.2 C927.2,728.4 950.0,729.2 965.6,728.8 M896.0,733.6 C914.0,735.6 938.0,735.2 956.0,734.0 M899.6,724.0 C897.2,725.8 899.6,729.4 910.4,731.8 " fill="none" stroke="#d9d9d2" stroke-width="1.7" stroke-linecap="round"/>
<path d="M919.2,697.5 L927.6,696.1 L929.1,693.8 L925.3,690.5 L930.6,688.8 L935.6,692.6 L939.1,692.0 L938.1,688.7 L944.0,688.5 L946.1,692.6 L952.6,694.3 L954.1,692.6 L958.4,694.3 L959.0,697.9 L964.9,701.4 L966.6,699.6 L970.1,702.2 L969.3,705.5 L974.2,709.6 L976.6,708.4 L979.2,710.4 L977.8,713.7 L981.0,717.8 L983.4,716.6 L985.0,719.5 L982.2,721.9 L982.4,724.8 L984.6,726.6 L983.0,728.3 L979.5,726.6 L976.6,727.2 L973.1,726.6 L974.8,731.8 L970.7,733.6 L966.0,726.6 L968.4,721.9 L966.0,722.5 L956.7,721.9 L944.9,720.7 L930.9,715.4 L922.7,710.2 L929.1,708.4 L927.4,704.3 L919.2,700.2Z M965.2,715.6 L964.6,716.5 L963.6,717.3 L962.3,717.9 L960.7,718.2 L958.8,718.3 L956.7,718.2 L954.5,717.9 L952.2,717.3 L949.8,716.6 L947.5,715.6 L945.2,714.5 L943.1,713.3 L941.1,711.9 L939.4,710.5 L937.9,709.0 L936.8,707.6 L935.9,706.1 L935.5,704.8 L935.4,703.5 L935.7,702.4 L936.3,701.5 L937.3,700.7 L938.6,700.1 L940.2,699.8 L942.1,699.6 L944.2,699.7 L946.4,700.1 L948.7,700.6 L951.1,701.4 L953.4,702.3 L955.7,703.5 L957.8,704.7 L959.8,706.1 L961.5,707.5 L963.0,708.9 L964.1,710.4 L965.0,711.8 L965.4,713.2 L965.5,714.4Z" fill="#e98197" fill-rule="evenodd"/>
<path d="M919.4,685.0 C908.0,685.6 901.4,691.0 901.4,699.4 C901.4,707.8 917.6,719.8 966.2,725.8 L966.6,724.0 C932.0,722.2 908.0,706.6 908.0,695.2 C908.0,689.8 912.8,686.4 919.4,685.0 Z" fill="#fff" stroke="#fff" stroke-width="2"/>
<path d="M901.4,709.2 L901.4,716.4 C910.4,723.4 927.2,730.0 960.2,731.4 L961.0,729.6 C932.0,727.0 914.0,719.8 901.4,709.2 Z" fill="#fff" stroke="#fff" stroke-width="2"/>
<path d="M919.4,685.0 C908.0,685.6 901.4,691.0 901.4,699.4 C901.4,707.8 917.6,719.8 966.2,725.8 L966.6,724.0 C932.0,722.2 908.0,706.6 908.0,695.2 C908.0,689.8 912.8,686.4 919.4,685.0 Z" fill="#e98197"/>
<path d="M901.4,709.2 L901.4,716.4 C910.4,723.4 927.2,730.0 960.2,731.4 L961.0,729.6 C932.0,727.0 914.0,719.8 901.4,709.2 Z" fill="#e98197"/>
<path id="arc" d="M873.9,735.8 A63.3,63.3 0 0 1 1000.5,735.8" fill="none"/>
<text font-family="Liberation Sans, sans-serif" font-size="19" letter-spacing="0.85" style="filter:contrast(1)"><textPath href="#arc" startOffset="4.5"><tspan fill="#8a8a8a">TRUCKMALL</tspan><tspan fill="#e98197">PARTS</tspan></textPath></text>
</g>
</svg>
</body></html>
